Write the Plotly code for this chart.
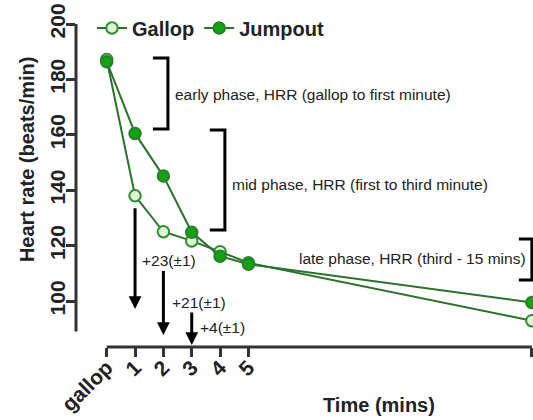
import plotly.graph_objects as go

# Recovery time points (minutes after the gallop) and their axis labels
minutes = [0, 1, 2, 3, 4, 5, 15]
tick_labels = ["gallop", "1", "2", "3", "4", "5", "15"]

# Mean heart rate (beats/min) for each exercise type
gallop_hr = [187.2, 138.0, 125.0, 121.7, 117.8, 113.8, 92.9]
jumpout_hr = [186.4, 160.5, 145.1, 124.8, 116.2, 113.3, 99.5]

# Heart-rate recovery phases: label, bracket x extent, bracket y extent, text anchor
phase_labels = [
    "early phase, HRR (gallop to first minute)",
    "mid phase, HRR (first to third minute)",
    "late phase, HRR (third - 15 mins)",
]
phase_bracket_x = [(1.63, 2.16), (3.64, 4.17), (14.54, 15.0)]
phase_bracket_y = [(187.7, 162.1), (161.7, 125.6), (122.4, 107.6)]
phase_text_pos = [(2.34, 174.6), (4.35, 142.0), (6.70, 115.5)]

# Differences between exercise types at minutes 1-3
diff_labels = ["+23(±1)", "+21(±1)", "+4(±1)"]
diff_minutes = [1, 2, 3]
diff_arrow_from = [134.0, 111.4, 96.4]
diff_arrow_to = [97.1, 87.7, 84.1]
diff_text_pos = [(1.175, 114.8), (2.233, 99.4), (3.22, 90.3)]

FONT = "Liberation Sans, Arial, sans-serif"
LINE_GREEN = "#2a732a"
AXIS_GREY = "#333333"

# Axis ranges chosen so the offset axes sit where they should
X_RANGE = [-1.083, 15.04]
Y_RANGE = [83.4, 200]
Y_AXIS_BOTTOM = 89.0

fig = go.Figure()

fig.add_trace(go.Scatter(
    x=minutes, y=gallop_hr, name="Gallop", mode="lines+markers",
    line=dict(color=LINE_GREEN, width=2),
    marker=dict(size=11.5, color="#ddf7d6", line=dict(color="#2f8f2f", width=2)),
))
fig.add_trace(go.Scatter(
    x=minutes, y=jumpout_hr, name="Jumpout", mode="lines+markers",
    line=dict(color=LINE_GREEN, width=2),
    marker=dict(size=11.5, color="#13a313", line=dict(color="#2a7f2a", width=2)),
))

shapes = []
# Offset axis lines
shapes.append(dict(type="line", xref="paper", yref="y", x0=0, x1=0,
                   y0=Y_AXIS_BOTTOM, y1=Y_RANGE[1],
                   line=dict(color=AXIS_GREY, width=3)))
shapes.append(dict(type="line", xref="x", yref="paper", x0=minutes[0], x1=minutes[-1],
                   y0=0, y1=0, line=dict(color=AXIS_GREY, width=3)))

annotations = []
for label, (bx0, bx1), (by0, by1), (tx, ty) in zip(
        phase_labels, phase_bracket_x, phase_bracket_y, phase_text_pos):
    shapes.append(dict(type="path", xref="x", yref="y",
                       path=f"M{bx0},{by0} L{bx1},{by0} L{bx1},{by1} L{bx0},{by1}",
                       line=dict(color="black", width=3)))
    annotations.append(dict(x=tx, y=ty, xref="x", yref="y", text=label,
                            showarrow=False, xanchor="left", yanchor="middle",
                            font=dict(family=FONT, size=15.5, color="#222222")))

for label, m, y_from, y_to, (tx, ty) in zip(
        diff_labels, diff_minutes, diff_arrow_from, diff_arrow_to, diff_text_pos):
    annotations.append(dict(x=m, y=y_to, ax=m, ay=y_from, xref="x", yref="y",
                            axref="x", ayref="y", text="", showarrow=True,
                            arrowhead=2, arrowsize=0.85, arrowwidth=3,
                            arrowcolor="black", standoff=0))
    annotations.append(dict(x=tx, y=ty, xref="x", yref="y", text=label,
                            showarrow=False, xanchor="left", yanchor="middle",
                            font=dict(family=FONT, size=15.5, color="#222222")))

# Axis titles
annotations.append(dict(x=-0.107, y=0.582, xref="paper", yref="paper",
                        text="Heart rate (beats/min)", textangle=-90, showarrow=False,
                        xanchor="center", yanchor="middle",
                        font=dict(family=FONT, size=20, weight="bold", color="#222222")))
annotations.append(dict(x=0.662, y=-0.18, xref="paper", yref="paper",
                        text="Time (mins)", showarrow=False,
                        xanchor="center", yanchor="middle",
                        font=dict(family=FONT, size=20, weight="bold", color="#222222")))

fig.update_layout(
    width=533, height=420,
    margin=dict(l=76, r=0, t=24, b=73),
    paper_bgcolor="white", plot_bgcolor="white",
    showlegend=True,
    legend=dict(orientation="h", x=0.035, y=1.048, xanchor="left", yanchor="top",
                font=dict(family=FONT, size=20, weight="bold", color="#222222"),
                bgcolor="rgba(0,0,0,0)", itemwidth=30),
    shapes=shapes,
    annotations=annotations,
    xaxis=dict(range=X_RANGE, tickvals=minutes, ticktext=tick_labels, tickangle=-45,
               showgrid=False, zeroline=False, showline=False,
               ticks="outside", ticklen=9, tickwidth=3, tickcolor=AXIS_GREY,
               ticklabelstandoff=-10,
               tickfont=dict(family=FONT, size=21, weight="bold", color="#222222")),
    yaxis=dict(range=Y_RANGE, tickvals=[100, 120, 140, 160, 180, 200], tickangle=-90,
               showgrid=False, zeroline=False, showline=False,
               ticks="outside", ticklen=9, tickwidth=3, tickcolor=AXIS_GREY,
               ticklabelstandoff=-7,
               tickfont=dict(family=FONT, size=21, weight="bold", color="#222222")),
)

fig.write_html("out.html")
